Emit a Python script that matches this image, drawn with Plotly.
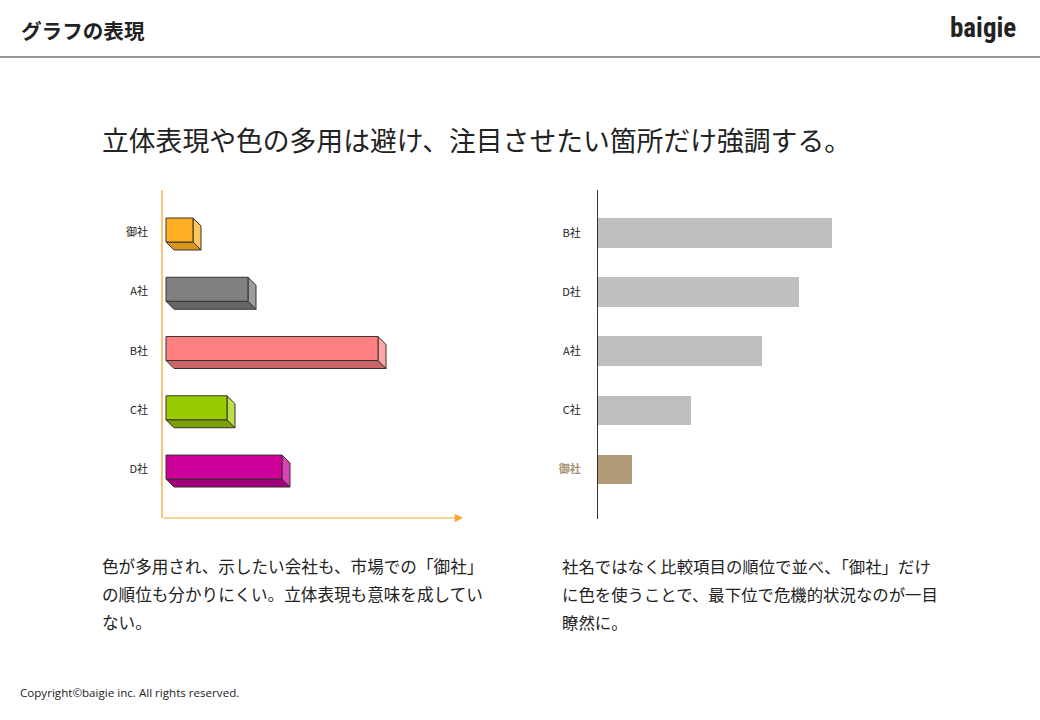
import plotly.graph_objects as go

W, H = 1040, 720

# ---- data ----
left_categories = ["御社", "A社", "B社", "C社", "D社"]
left_values = [27, 82, 212, 61, 116]
left_front = ["#FFB023", "#808080", "#FF8080", "#99CC00", "#CC0099"]
left_side = ["#FFC75A", "#9C9C9C", "#FFA6A6", "#B8DE4A", "#DB42B3"]
left_bottom = ["#D9961D", "#666666", "#CC6666", "#7BA300", "#A0007A"]

right_categories = ["B社", "D社", "A社", "C社", "御社"]
right_values = [234, 201, 164, 93, 34]
right_colors = ["#BFBFBF", "#BFBFBF", "#BFBFBF", "#BFBFBF", "#B09A78"]

title_text = "グラフの表現"
logo_text = "baigie"
heading = "立体表現や色の多用は避け、注目させたい箇所だけ強調する。"
left_caption = ["色が多用され、示したい会社も、市場での「御社」",
                "の順位も分かりにくい。立体表現も意味を成してい",
                "ない。"]
right_caption = ["社名ではなく比較項目の順位で並べ、「御社」だけ",
                 "に色を使うことで、最下位で危機的状況なのが一目",
                 "瞭然に。"]
footer = "Copyright©baigie inc. All rights reserved."

JP = "Noto Sans CJK JP, Noto Sans, sans-serif"
ORANGE = "#F5A733"
EDGE = "#3a3030"


def px(x):
    return x / W


def py(y):
    return 1 - y / H


fig = go.Figure()

# ---- left: pseudo 3D bars ----
bar_h = 0.405
dx = 8
dy = 0.135
idx = list(range(len(left_categories)))
for i, v in enumerate(left_values):
    top, bot = i - bar_h / 2, i + bar_h / 2
    # bottom face
    fig.add_trace(go.Scatter(
        x=[0, v, v + dx, dx, 0], y=[bot, bot, bot + dy, bot + dy, bot],
        fill="toself", fillcolor=left_bottom[i], mode="lines",
        line=dict(color=EDGE, width=1), xaxis="x", yaxis="y",
        showlegend=False, hoverinfo="skip"))
    # side face
    fig.add_trace(go.Scatter(
        x=[v, v + dx, v + dx, v, v], y=[top, top + dy, bot + dy, bot, top],
        fill="toself", fillcolor=left_side[i], mode="lines",
        line=dict(color=EDGE, width=1), xaxis="x", yaxis="y",
        showlegend=False, hoverinfo="skip"))
    # front face
    fig.add_trace(go.Scatter(
        x=[0, v, v, 0, 0], y=[top, top, bot, bot, top],
        fill="toself", fillcolor=left_front[i], mode="lines",
        line=dict(color=EDGE, width=1), xaxis="x", yaxis="y",
        showlegend=False, hoverinfo="skip"))

# ---- right: flat bars ----
fig.add_trace(go.Bar(
    x=right_values, y=list(range(len(right_categories))), orientation="h",
    marker=dict(color=right_colors, line=dict(width=0)), width=0.5,
    xaxis="x2", yaxis="y2", showlegend=False))

left_ticktext = left_categories
right_ticktext = [c if c != "御社" else "<b><span style='color:#A89070'>御社</span></b>"
                  for c in right_categories]

fig.update_layout(
    width=W, height=H, autosize=False,
    margin=dict(l=0, r=0, t=0, b=0),
    paper_bgcolor="white", plot_bgcolor="rgba(0,0,0,0)",
    font=dict(family=JP, color="#222222"),
    bargap=0,
    xaxis=dict(domain=[px(162), px(463)], range=[-4, 297], visible=False,
               fixedrange=True),
    yaxis=dict(domain=[py(518), py(190)], range=[4.86, -0.675],
               tickvals=[i + 0.04 for i in idx], ticktext=left_ticktext, showgrid=False,
               zeroline=False, showline=False,
               ticks="", ticklabelstandoff=13, tickfont=dict(size=11, color="#222"),
               anchor="x"),
    xaxis2=dict(domain=[px(598), px(860)], range=[0, 262], visible=False,
                fixedrange=True, anchor="y2"),
    yaxis2=dict(domain=[py(519), py(190)], range=[4.84, -0.728],
                tickvals=list(range(len(right_categories))), ticktext=right_ticktext,
                showgrid=False, zeroline=False, showline=True, linecolor="#333333",
                linewidth=1, ticks="", ticklabelstandoff=14,
                tickfont=dict(size=11, color="#222"), anchor="x2"),
)

# left y axis line (orange)
fig.add_shape(type="line", xref="x domain", yref="y domain", x0=0, x1=0,
              y0=0, y1=1, line=dict(color=ORANGE, width=1.3))
# left x axis line with arrow
fig.add_annotation(x=297, y=4.86, ax=-4, ay=4.86, xref="x", yref="y",
                   axref="x", ayref="y", showarrow=True, arrowhead=2,
                   arrowsize=1.4, arrowwidth=1.2, arrowcolor=ORANGE, text="")

# header rule
fig.add_shape(type="line", xref="paper", yref="paper", x0=0, x1=1,
              y0=py(57), y1=py(57), line=dict(color="#333333", width=1.2))

# texts
fig.add_annotation(x=px(19), y=py(30), xref="paper", yref="paper",
                   text=f"<b>{title_text}</b>", showarrow=False, xanchor="left",
                   yanchor="middle", font=dict(size=20.6, color="#222", family=JP))
fig.add_annotation(x=px(1018), y=py(28), xref="paper", yref="paper",
                   text=f"<b>{logo_text}</b>", showarrow=False, xanchor="right",
                   yanchor="middle",
                   font=dict(size=27, color="#222",
                             family="Liberation Sans Narrow, Roboto Condensed, Open Sans"))
fig.add_annotation(x=px(100), y=py(139), xref="paper", yref="paper",
                   text=heading, showarrow=False, xanchor="left", yanchor="middle",
                   font=dict(size=26.8, color="#222", family=JP))

for k, line in enumerate(left_caption):
    fig.add_annotation(x=px(100), y=py(566 + 28 * k), xref="paper", yref="paper",
                       text=line, showarrow=False, xanchor="left", yanchor="middle",
                       font=dict(size=16.6, color="#222", family=JP))
for k, line in enumerate(right_caption):
    fig.add_annotation(x=px(560), y=py(566 + 28 * k), xref="paper", yref="paper",
                       text=line, showarrow=False, xanchor="left", yanchor="middle",
                       font=dict(size=16.4, color="#222", family=JP))

fig.add_annotation(x=px(18), y=py(692), xref="paper", yref="paper",
                   text=footer, showarrow=False, xanchor="left", yanchor="middle",
                   font=dict(size=11.6, color="#222", family="Open Sans, Noto Sans"))

fig.write_html("out.html")
